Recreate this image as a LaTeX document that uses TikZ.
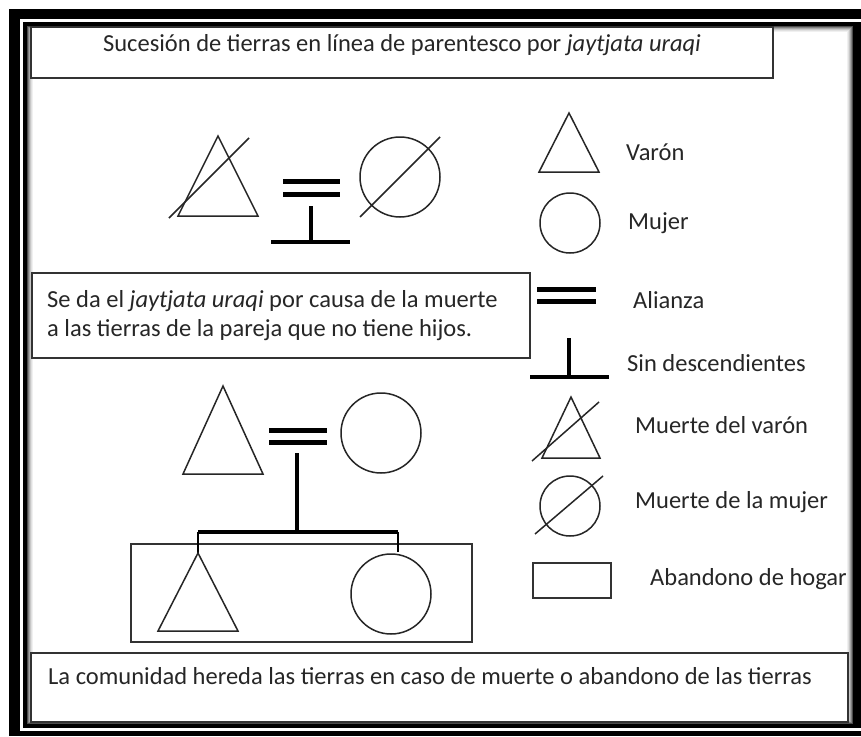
\documentclass[tikz,border=0pt]{standalone}
\usepackage{fontspec}
\setmainfont{Carlito}
\usetikzlibrary{positioning}
\tikzset{simbolo/.style = {line width = 1.5, black!85}}
\tikzset{mujer/.style = {draw, circle, inner sep = 0, line width = 1.5, black!85}}
\tikzset{alianza/.style = {line width = 5}}
\tikzset{linea/.style = {line width = 3.2}}
\tikzset{rama/.style = {line width = 2}}
\tikzset{caja/.style = {draw = black!80, line width = 1.3}}
\tikzset{texto/.style = {anchor = base west, inner sep = 0, font = \fontsize{24.5}{30}\selectfont, black!85}}

\begin{document}
\begin{tikzpicture}[x = 1pt, y = -1pt]
      \useasboundingbox (0, 0) rectangle (861, 736);

      % marco
      \fill (9, 9) rectangle (861, 736);
      \fill [white] (20, 19) rectangle (861, 731);
      \fill (23, 22) rectangle (861, 728);
      \fill [white] (27, 26) rectangle (853, 724);
      \foreach \i/\g in {0/70, 1/50, 2/35, 3/22, 4/12, 5/6}
        \draw [black!\g, line width = 1] (27.5 + \i, 26.5 + \i) rectangle (852.5 - \i, 723.5 - \i);

      % cajas de texto
      \draw [caja, fill = white] (31, 27) rectangle (773, 78);
      \node [texto, anchor = base] (titulo) at (402, 51) {Sucesión de tierras en línea de parentesco por \textit{jaytjata uraqi}};

      \draw [caja, fill = white] (32, 273) rectangle (530, 358);
      \node [texto] (causa1) at (47, 307) {Se da el \textit{jaytjata uraqi} por causa de la muerte};
      \node [texto] (causa2) at (47, 336) {a las tierras de la pareja que no tiene hijos.};

      \draw [caja, fill = white] (31, 653) rectangle (848, 722);
      \node [texto] (comunidad) at (48, 684) {La comunidad hereda las tierras en caso de muerte o abandono de las tierras};

      % pareja sin hijos
      \draw [simbolo] (178, 216) -- (218, 136) -- (258, 216) -- cycle;
      \draw [simbolo] (169, 218) -- (249, 138);
      \draw [alianza] (283, 181.5) -- (340, 181.5) (283, 194.5) -- (340, 194.5);
      \coordinate (union1) at (311, 206);
      \coordinate (fin1) at (311, 243);
      \draw [linea] (union1) -- (fin1);
      \draw [linea] (271, 242) -- (350, 242);
      \node [mujer, minimum size = 80] (m1) at (400, 177) {};
      \draw [simbolo] (m1.center) +(-40, 40) -- +(40, -40);

      % pareja con hijos
      \draw [simbolo] (183, 474) -- (223, 386) -- (263, 474) -- cycle;
      \draw [alianza] (269, 430) -- (327, 430) (269, 442) -- (327, 442);
      \node [mujer, minimum size = 80] (m2) at (381, 433) {};
      \coordinate (union2) at (297, 453);
      \coordinate (hijos) at (297, 532);
      \draw [linea] (union2) -- (hijos);

      \draw [caja] (131, 544) rectangle (472, 642);
      \coordinate (v3) at (198, 553);
      \node [mujer, minimum size = 80] (m3) at (391, 594) {};
      \coordinate (m3top) at (398, 552);
      \draw [linea] (v3 |- hijos) -- (m3top |- hijos);
      \draw [rama] (v3) -- (v3 |- hijos);
      \draw [rama] (m3top) -- (m3top |- hijos);
      \draw [simbolo] (v3) -- (238, 631) -- (158, 631) -- cycle;

      % leyenda
      \draw [simbolo] (539, 172) -- (569, 113) -- (599, 172) -- cycle;
      \node [texto] (varon) at (626, 160) {Varón};

      \node [mujer, minimum size = 60] (m4) at (570, 223) {};
      \node [texto] (mujerl) at (628, 229) {Mujer};

      \draw [alianza] (537, 289.5) -- (596, 289.5) (537, 301.5) -- (596, 301.5);
      \node [texto] (alianzal) at (633, 308) {Alianza};

      \coordinate (union4) at (569, 338);
      \coordinate (fin4) at (569, 377);
      \draw [linea] (union4) -- (fin4);
      \draw [linea] (530, 377) -- (609, 377);
      \node [texto] (sin) at (627, 371) {Sin descendientes};

      \draw [simbolo] (542, 458) -- (571, 397) -- (600, 458) -- cycle;
      \draw [simbolo] (532, 461) -- (599, 402);
      \node [texto] (mvaron) at (635, 433) {Muerte del varón};

      \node [mujer, minimum size = 60] (m5) at (570, 506) {};
      \draw [simbolo] (535, 534) -- (603, 476);
      \node [texto] (mmujer) at (635, 508) {Muerte de la mujer};

      \draw [caja] (533, 563) rectangle (611, 598);
      \node [texto] (abandono) at (650, 585) {Abandono de hogar};
    \end{tikzpicture}
\end{document}
